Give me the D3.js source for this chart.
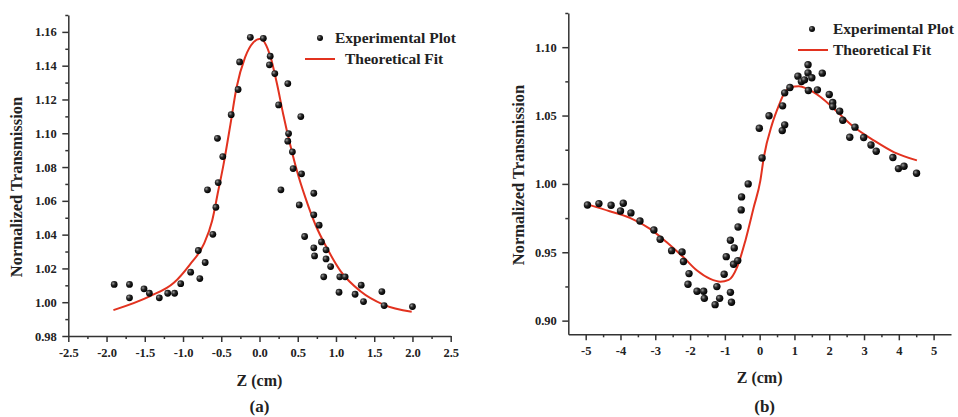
<!DOCTYPE html>
<html>
<head>
<meta charset="utf-8">
<script src="https://cdn.jsdelivr.net/npm/d3@7/dist/d3.min.js"></script>
<style>
  body { margin: 0; background: #fff; }
  svg text { font-family: "Liberation Serif", "Times New Roman", serif; font-weight: bold; fill: #222; }
  .axis path, .axis line { stroke: #333; stroke-width: 1.5; }
  .axis text { font-size: 12.5px; }
</style>
</head>
<body>
<div id="chart"></div>
<script>
// panel (a): measured points
var aZ = [-1.90, -1.70, -1.70, -1.51, -1.44, -1.31, -1.20, -1.11, -1.03, -0.90, -0.78, -0.80, -0.71, -0.68, -0.61,
  -0.57, -0.54, -0.55, -0.48, -0.37, -0.28, -0.26, -0.12, 0.05, 0.14, 0.13, 0.20, 0.37, 0.25, 0.54, 0.38, 0.37,
  0.43, 0.44, 0.55, 0.28, 0.71, 0.52, 0.71, 0.78, 0.59, 0.81, 0.71, 0.72, 0.87, 0.87, 0.93, 0.84, 1.05, 1.12,
  1.04, 1.33, 1.25, 1.36, 1.60, 1.63, 2.00];
var aT = [1.0105, 1.0105, 1.0026, 1.0079, 1.0053, 1.0026, 1.0053, 1.0053, 1.0110, 1.0178, 1.0140, 1.0306, 1.0235,
  1.0665, 1.0402, 1.0562, 1.0708, 1.0970, 1.0862, 1.1110, 1.1259, 1.1422, 1.1568, 1.1562, 1.1456, 1.1405, 1.1353,
  1.1294, 1.1168, 1.1099, 1.0998, 1.0953, 1.0890, 1.0791, 1.0760, 1.0665, 1.0645, 1.0576, 1.0517, 1.0456, 1.0389,
  1.0357, 1.0322, 1.0274, 1.0310, 1.0256, 1.0211, 1.0150, 1.0150, 1.0150, 1.0059, 1.0101, 1.0047, 1.0004, 1.0063,
  0.9980, 0.9974];
// panel (a): fitted curve
var aFitZ = [-1.91, -1.43, -1.12, -0.91, -0.73, -0.62, -0.54, -0.47, -0.38, -0.30, -0.19, -0.08, 0.01,
  0.14, 0.23, 0.31, 0.40, 0.49, 0.60, 0.73, 0.88, 1.06, 1.32, 1.62, 1.99];
var aFitT = [0.9953, 1.0036, 1.0115, 1.0223, 1.0342, 1.0480, 1.0658, 1.0816, 1.1053, 1.1271, 1.1448, 1.1538, 1.1560,
  1.1458, 1.1290, 1.1113, 1.0935, 1.0777, 1.0619, 1.0460, 1.0322, 1.0184, 1.0065, 0.9986, 0.9943];

// panel (b): measured points
var bZ = [-4.95, -4.62, -4.27, -4.00, -3.92, -3.70, -3.44, -3.04, -2.86, -2.53, -2.23, -2.19, -2.03, -2.06, -1.80,
  -1.61, -1.59, -1.28, -1.23, -1.15, -1.02, -0.96, -0.84, -0.84, -0.81, -0.73, -0.75, -0.63, -0.62, -0.53, -0.52,
  -0.33, -0.01, 0.07, 0.27, 0.65, 0.72, 0.66, 0.72, 0.87, 1.10, 1.20, 1.29, 1.39, 1.39, 1.40, 1.50, 1.66, 1.80,
  2.00, 2.10, 2.10, 2.30, 2.39, 2.59, 2.74, 2.99, 3.20, 3.35, 3.83, 3.99, 4.15, 4.51];
var bT = [0.9846, 0.9856, 0.9844, 0.9802, 0.9859, 0.9788, 0.9729, 0.9663, 0.9595, 0.9512, 0.9502, 0.9432, 0.9344,
  0.9266, 0.9215, 0.9215, 0.9163, 0.9117, 0.9249, 0.9163, 0.9339, 0.9468, 0.9588, 0.9207, 0.9134, 0.9532, 0.9412,
  0.9439, 0.9685, 0.9810, 0.9905, 1.0000, 1.0407, 1.0190, 1.0498, 1.0390, 1.0432, 1.0571, 1.0666, 1.0705, 1.0788,
  1.0749, 1.0761, 1.0871, 1.0812, 1.0683, 1.0776, 1.0688, 1.0810, 1.0654, 1.0595, 1.0566, 1.0532, 1.0466, 1.0341,
  1.0415, 1.0339, 1.0285, 1.0239, 1.0193, 1.0112, 1.0129, 1.0078];
// panel (b): fitted curve
var bFitZ = [-4.93, -4.31, -3.73, -3.15, -2.67, -2.19, -1.80, -1.42, -1.13, -0.89, -0.65, -0.41, -0.17, 0.02,
  0.12, 0.36, 0.55, 0.70, 0.89, 1.13, 1.37, 1.76, 2.24, 2.72, 3.29, 3.87, 4.52];
var bFitT = [0.9849, 0.9800, 0.9751, 0.9671, 0.9573, 0.9463, 0.9366, 0.9305, 0.9285, 0.9298, 0.9390, 0.9585,
  0.9829, 1.0024, 1.0195, 1.0439, 1.0573, 1.0659, 1.0707, 1.0714, 1.0695, 1.0634, 1.0524, 1.0414, 1.0317, 1.0231,
  1.0172];

// tick values
var aXTicks = [-2.5, -2.0, -1.5, -1.0, -0.5, 0.0, 0.5, 1.0, 1.5, 2.0, 2.5];
var aYTicks = [0.98, 1.00, 1.02, 1.04, 1.06, 1.08, 1.10, 1.12, 1.14, 1.16];
var bXTicks = [-5, -4, -3, -2, -1, 0, 1, 2, 3, 4, 5];
var bYTicks = [0.90, 0.95, 1.00, 1.05, 1.10];

var width = 958;
var height = 417;

var svg = d3.select("#chart")
  .append("svg")
  .attr("width", width)
  .attr("height", height);

var defs = svg.append("defs");
var grad = defs.append("radialGradient")
  .attr("id", "ball")
  .attr("cx", "35%")
  .attr("cy", "35%")
  .attr("r", "65%");
grad.append("stop").attr("offset", "0%").attr("stop-color", "#9a9a9a");
grad.append("stop").attr("offset", "45%").attr("stop-color", "#262626");
grad.append("stop").attr("offset", "100%").attr("stop-color", "#000");

function minors(ticks, step) {
  var out = [];
  for (var i = 0; i < ticks.length - 1; i++) {
    out.push(+(ticks[i] + step / 2).toFixed(4));
  }
  return out;
}

function drawPanel(p) {
  var x = d3.scaleLinear().domain(p.xDomain).range(p.xRange);
  var y = d3.scaleLinear().domain(p.yDomain).range(p.yRange);

  var xStep = p.xTicks[1] - p.xTicks[0];
  var yStep = p.yTicks[1] - p.yTicks[0];
  var yMinor = minors(p.yTicks, yStep);
  // one extra minor tick above the last labelled one
  yMinor.push(+(p.yTicks[p.yTicks.length - 1] + yStep / 2).toFixed(4));

  // minor ticks
  svg.append("g")
    .attr("class", "axis")
    .attr("transform", "translate(0," + p.yRange[0] + ")")
    .call(d3.axisBottom(x).tickValues(minors(p.xTicks, xStep)).tickSize(3).tickFormat(""))
    .select(".domain").remove();
  svg.append("g")
    .attr("class", "axis")
    .attr("transform", "translate(" + p.xRange[0] + ",0)")
    .call(d3.axisLeft(y).tickValues(yMinor).tickSize(3).tickFormat(""))
    .select(".domain").remove();

  // major ticks
  svg.append("g")
    .attr("class", "axis")
    .attr("transform", "translate(0," + p.yRange[0] + ")")
    .call(d3.axisBottom(x).tickValues(p.xTicks).tickSize(6).tickSizeOuter(0)
      .tickFormat(function(d) { return d.toFixed(p.xDigits); }))
    .selectAll("text").attr("dy", "0.95em");
  svg.append("g")
    .attr("class", "axis")
    .attr("transform", "translate(" + p.xRange[0] + ",0)")
    .call(d3.axisLeft(y).tickValues(p.yTicks).tickSize(6).tickSizeOuter(0)
      .tickFormat(function(d) { return d.toFixed(2); }))
    .selectAll("text").attr("dx", "-0.2em");

  // fit line
  var line = d3.line()
    .x(function(d) { return x(d[0]); })
    .y(function(d) { return y(d[1]); })
    .curve(d3.curveMonotoneX);
  svg.append("path")
    .datum(d3.zip(p.fitZ, p.fitT))
    .attr("d", line)
    .attr("fill", "none")
    .attr("stroke", "#e2321f")
    .attr("stroke-width", 2);

  // points
  svg.append("g")
    .selectAll("circle")
    .data(d3.zip(p.z, p.t))
    .enter()
    .append("circle")
    .attr("cx", function(d) { return x(d[0]); })
    .attr("cy", function(d) { return y(d[1]); })
    .attr("r", p.r)
    .attr("fill", "url(#ball)");

  // axis titles
  var cx = (p.xRange[0] + p.xRange[1]) / 2;
  svg.append("text")
    .attr("x", cx)
    .attr("y", p.xTitleY)
    .attr("text-anchor", "middle")
    .style("font-size", "16px")
    .text("Z (cm)");
  svg.append("text")
    .attr("x", cx + p.capDx)
    .attr("y", 412)
    .attr("text-anchor", "middle")
    .style("font-size", "17px")
    .text(p.caption);
  svg.append("text")
    .attr("transform", "translate(" + p.yTitleX + "," + p.yTitleY + ")rotate(-90)")
    .attr("text-anchor", "middle")
    .attr("dy", "0.35em")
    .style("font-size", "16.5px")
    .text("Normalized Transmission");

  // legend
  var lg = svg.append("g");
  lg.append("circle")
    .attr("cx", p.legX)
    .attr("cy", p.legY)
    .attr("r", 3)
    .attr("fill", "url(#ball)");
  lg.append("text")
    .attr("x", p.legTextX)
    .attr("y", p.legY + 5)
    .style("font-size", "15.5px")
    .text("Experimental Plot");
  lg.append("line")
    .attr("x1", p.legLineX1)
    .attr("x2", p.legLineX2)
    .attr("y1", p.legY + 21)
    .attr("y2", p.legY + 21)
    .attr("stroke", "#e2321f")
    .attr("stroke-width", 2);
  lg.append("text")
    .attr("x", p.legText2X)
    .attr("y", p.legY + 26)
    .style("font-size", "15.5px")
    .text("Theoretical Fit");
}

drawPanel({
  z: aZ, t: aT, fitZ: aFitZ, fitT: aFitT,
  xTicks: aXTicks, yTicks: aYTicks, xDigits: 1,
  xDomain: [-2.5, 2.5], xRange: [68.3, 450.7],
  yDomain: [0.98, 1.17], yRange: [336, 15],
  r: 3.4,
  xTitleY: 386, capDx: 0, caption: "(a)",
  yTitleX: 16, yTitleY: 187,
  legX: 320, legY: 38, legTextX: 335,
  legLineX1: 305, legLineX2: 335, legText2X: 345
});

drawPanel({
  z: bZ, t: bT, fitZ: bFitZ, fitT: bFitT,
  xTicks: bXTicks, yTicks: bYTicks, xDigits: 0,
  xDomain: [-5.5, 5.5], xRange: [568.3, 951],
  yDomain: [0.89, 1.125], yRange: [334.3, 13],
  r: 3.7,
  xTitleY: 383, capDx: 5, caption: "(b)",
  yTitleX: 518, yTitleY: 175,
  legX: 812, legY: 29, legTextX: 833,
  legLineX1: 798, legLineX2: 828, legText2X: 833
});
</script>
</body>
</html>
